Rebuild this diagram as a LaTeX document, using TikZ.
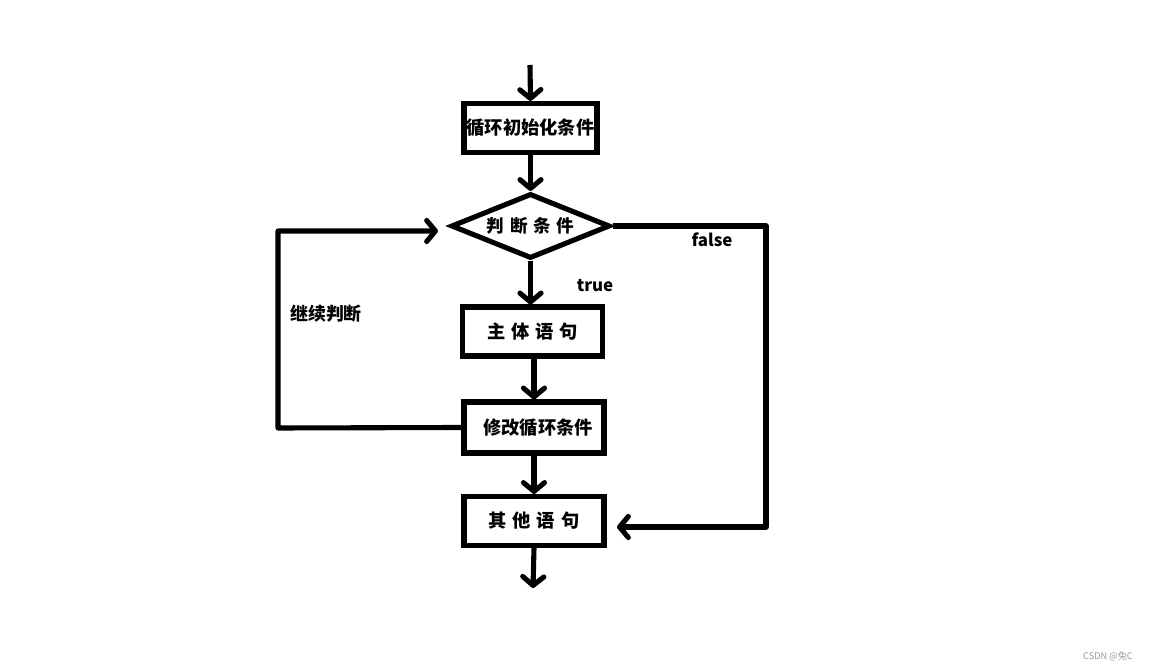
\documentclass[tikz,border=0pt]{standalone}
\usepackage{fontspec}
\newfontfamily\cjk{Noto Sans CJK SC}
\usetikzlibrary{shapes.geometric,arrows.meta}

\newcommand{\gap}{\hspace{0.32em}}

\tikzset{
  box/.style={draw, line width=2.9pt, minimum width=2.8cm, minimum height=0.98cm,
    inner sep=0pt, font=\cjk\bfseries\fontsize{10.4}{12}\selectfont},
  decision/.style={draw, diamond, aspect=2.5, line width=2.9pt, minimum width=3.18cm,
    minimum height=1.3cm, inner sep=0pt, font=\cjk\bfseries\fontsize{10}{12}\selectfont},
  flow/.style={line width=2.9pt, line join=round, -{Straight Barb[length=5pt,width=12pt,round]}},
  lbl/.style={font=\cjk\bfseries\fontsize{9.6}{11}\selectfont}
}

\begin{document}
\begin{tikzpicture}[x=0.02cm,y=-0.02cm]
\useasboundingbox (0,0) rectangle (1150,671);

% the main column
\node[box, minimum width=2.66cm] (init) at (530.5,128) {循环初始化条件};
\node[decision] (cond) at (530.5,226) {判\gap 断\gap 条\gap 件};
\node[box] (body) at (532.5,331.5) {主\gap 体\gap 语\gap 句};
\node[box, minimum height=1.02cm] (update) at (534,427.5) {\hspace*{0.16cm}修改循环条件};
\node[box] (rest) at (534,521) {其\gap 他\gap 语\gap 句};

% free ends
\coordinate (start) at (530,65);
\coordinate (finish) at (533,588);
\coordinate (loopin) at (438,231);
\coordinate (falsein) at (617,527);

% arrows down the column
\draw[flow] (start) -- (init.north);
\draw[flow] (init.south) -- (cond.north);
\draw[flow] (cond.south) -- (body.north -| cond.south);
\draw[flow] (body.south -| update.north) -- (update.north);
\draw[flow] (update.south) -- (rest.north);
\draw[flow] (rest.south) -- (finish);

% loop back and false branch
\draw[flow] (update.west) -- (278,428) -- (278,231) -- (loopin);
\draw[flow] (cond.east) -- (766,226) -- (766,527) -- (falsein);

% labels
\node[lbl] (truelbl) at (595,286) {true};
\node[lbl] (falselbl) at (712,240) {false};
\node[lbl, font=\cjk\bfseries\fontsize{10.2}{12}\selectfont] (again) at (326,314) {继续判断};
\node[font=\cjk\fontsize{5.2}{6}\selectfont, text=gray!80] (mark) at (1108,656) {CSDN @兔C};

\end{tikzpicture}
\end{document}
